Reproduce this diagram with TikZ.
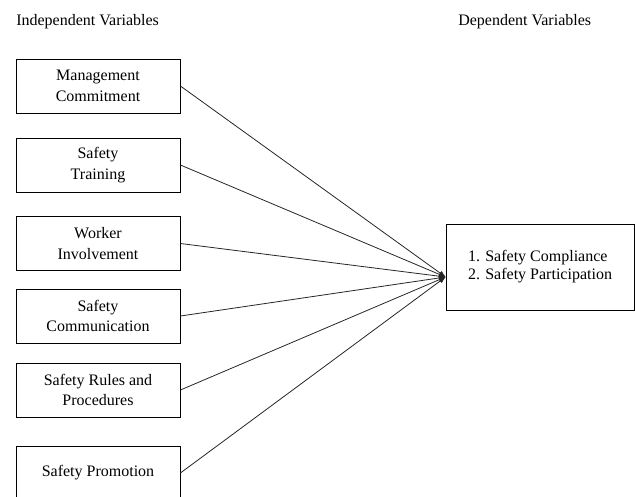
\documentclass[tikz,border=0pt]{standalone}
\usepackage{fontspec}
\setmainfont{Liberation Serif}
\usetikzlibrary{arrows.meta,calc,positioning}

\tikzset{
    varbox/.style={draw, line width=0.6pt, minimum width=123pt, minimum height=40.5pt, align=center, font=\fontsize{12}{15.5}\selectfont},
    outbox/.style={draw, line width=0.6pt, minimum width=141pt, minimum height=64.5pt, align=left, font=\fontsize{12}{13.5}\selectfont},
    link/.style={line width=0.6pt, draw=black!85, -{Latex[length=5pt,width=4pt]}}
}

\begin{document}
\begin{tikzpicture}[x=0.75pt,y=-0.75pt]
    \useasboundingbox (0,0) rectangle (635,496);

    % Headings
    \node[anchor=west, inner sep=0pt, font=\fontsize{12}{14}\selectfont] (indep) at (16,22) {Independent Variables};
    \node[anchor=west, inner sep=0pt, font=\fontsize{12}{14}\selectfont] (dep) at (458,22) {Dependent Variables};

    % Independent variable boxes
    \node[varbox] (mc) at (98,86) {Management\\Commitment};
    \node[varbox] (st) at (98,165) {Safety\\Training};
    \node[varbox] (wi) at (98,243.5) {Worker\\Involvement};
    \node[varbox] (sc) at (98,316) {Safety\\Communication};
    \node[varbox] (sr) at (98,390) {Safety Rules and\\Procedures};
    \node[varbox] (sp) at (98,473) {Safety Promotion};

    % Dependent variable box
    \node[outbox] (out) at (540,267) {1. Safety Compliance\\2. Safety Participation};
    \coordinate (hub) at ($(out.west)+(0,10)$);

    % Links
    \foreach \n in {mc,st,wi,sc,sr,sp}
        \draw[link] (\n.east) -- (hub);

\end{tikzpicture}
\end{document}
